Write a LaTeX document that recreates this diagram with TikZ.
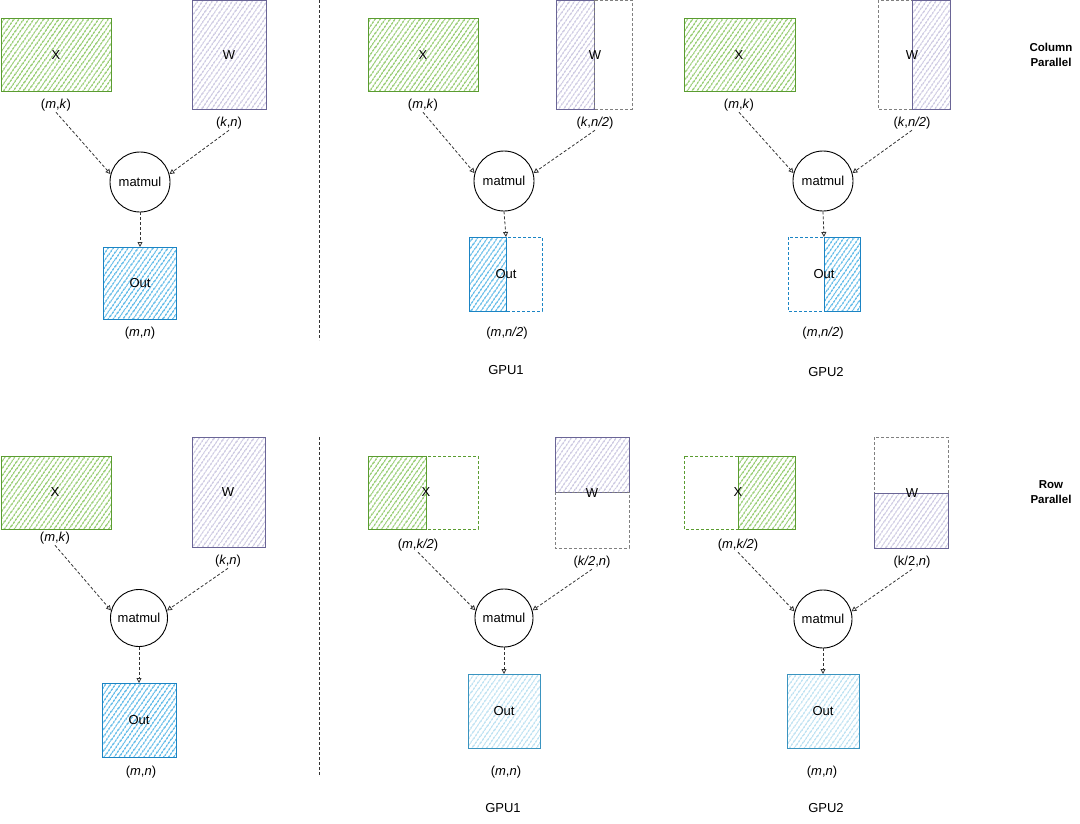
\documentclass[tikz,border=0pt]{standalone}
\usepackage{fontspec}
\setmainfont{Liberation Sans}
\usetikzlibrary{arrows.meta,patterns.meta}
\definecolor{xline}{HTML}{5A9C30}
\definecolor{xhatch}{HTML}{6DB83A}
\definecolor{wline}{HTML}{6A6596}
\definecolor{whatch}{HTML}{B8B3D6}
\definecolor{oline}{HTML}{1B84C4}
\definecolor{ohatch}{HTML}{1E9EDE}
\definecolor{lline}{HTML}{3A94C0}
\definecolor{lhatch}{HTML}{A2D5EC}
\tikzset{
	hatch/.style={pattern={Lines[angle=55,distance=4pt,line width=1.3pt]},pattern color=#1},
	xmat/.style={draw=xline,line width=0.9pt,hatch=xhatch},
	wmat/.style={draw=wline,line width=0.9pt,hatch=whatch},
	omat/.style={draw=oline,line width=0.9pt,hatch=ohatch},
	lmat/.style={draw=lline,line width=0.9pt,hatch=lhatch},
	halfbox/.style={draw=#1,line width=0.8pt,dash pattern=on 3pt off 2pt},
	mm/.style={circle,draw,line width=0.9pt,minimum size=60pt,inner sep=0pt},
	dim/.style={inner sep=1pt},
	flow/.style={dash pattern=on 3pt off 2pt,line width=0.8pt,draw=black!80,-{Triangle[open,length=5pt,width=5pt]}},
	sep/.style={dash pattern=on 3pt off 2pt,line width=0.8pt,black!80}
}
\begin{document}
\begin{tikzpicture}[x=1pt,y=-1pt,font=\fontsize{13}{15}\selectfont]
	\useasboundingbox (0,0) rectangle (1080,823);
	% separators
	\draw[sep] (319,0)--(319,340) (319,437)--(319,775);
	\node[align=center,font=\fontsize{11.5}{15}\selectfont\bfseries] (colpar) at (1051,55) {Column\\Parallel};
	\node[align=center,font=\fontsize{11.5}{15}\selectfont\bfseries] (rowpar) at (1051,492) {Row\\Parallel};
	%% column parallel, single device
	\draw[xmat] (1,18) rectangle (111,91);
	\draw[wmat] (192,0) rectangle (266,109);
	\draw[omat] (103,247) rectangle (176,319);
	\node (x1) at (56,55) {X};
	\node (w1) at (229,55) {W};
	\node (o1) at (140,283) {Out};
	\node[dim] (lx1) at (56,105) {(\textit{m},\textit{k})};
	\node[dim] (lw1) at (229,123) {(\textit{k},\textit{n})};
	\node[dim] (lo1) at (140,333) {(\textit{m},\textit{n})};
	\node[mm] (mm1) at (140,182) {matmul};
	\draw[flow] (lx1.south)--(mm1.165);
	\draw[flow] (lw1.south)--(mm1.15);
	\draw[flow] (mm1.south)--(o1.north |- 0,247);
	%% column parallel, GPU1
	\draw[xmat] (368,18) rectangle (478,91);
	\draw[wmat] (556,0) rectangle (594,109);
	\draw[halfbox=gray] (594,0) rectangle (632,109);
	\draw[omat] (469,237) rectangle (506,311);
	\draw[halfbox=oline] (506,237) rectangle (542,311);
	\node (x2) at (423,55) {X};
	\node (w2) at (595,55) {W};
	\node (o2) at (506,274) {Out};
	\node[dim] (lx2) at (423,105) {(\textit{m},\textit{k})};
	\node[dim] (lw2) at (595,123) {(\textit{k},\textit{n/2})};
	\node[dim] (lo2) at (507,333) {(\textit{m},\textit{n/2})};
	\node[mm] (mm2) at (504,181) {matmul};
	\node (gpu1a) at (506,370) {GPU1};
	\draw[flow] (lx2.south)--(mm2.165);
	\draw[flow] (lw2.south)--(mm2.15);
	\draw[flow] (mm2.south)--(506,237);
	%% column parallel, GPU2
	\draw[xmat] (684,18) rectangle (795,91);
	\draw[halfbox=gray] (878,0) rectangle (912,109);
	\draw[wmat] (912,0) rectangle (950,109);
	\draw[halfbox=oline] (788,237) rectangle (824,311);
	\draw[omat] (824,237) rectangle (860,311);
	\node (x3) at (739,55) {X};
	\node (w3) at (912,55) {W};
	\node (o3) at (824,274) {Out};
	\node[dim] (lx3) at (739,105) {(\textit{m},\textit{k})};
	\node[dim] (lw3) at (912,123) {(\textit{k},\textit{n/2})};
	\node[dim] (lo3) at (823,333) {(\textit{m},\textit{n/2})};
	\node[mm] (mm3) at (823,181) {matmul};
	\node (gpu2a) at (826,372) {GPU2};
	\draw[flow] (lx3.south)--(mm3.165);
	\draw[flow] (lw3.south)--(mm3.15);
	\draw[flow] (mm3.south)--(824,237);
	%% row parallel, single device
	\draw[xmat] (1,456) rectangle (111,529);
	\draw[wmat] (192,437) rectangle (265,547);
	\draw[omat] (102,683) rectangle (176,757);
	\node (x4) at (55,492) {X};
	\node (w4) at (228,492) {W};
	\node (o4) at (139,720) {Out};
	\node[dim] (lx4) at (55,538) {(\textit{m},\textit{k})};
	\node[dim] (lw4) at (228,561) {(\textit{k},\textit{n})};
	\node[dim] (lo4) at (141,772) {(\textit{m},\textit{n})};
	\node[mm,minimum size=57pt] (mm4) at (139,618) {matmul};
	\draw[flow] (lx4.south)--(mm4.165);
	\draw[flow] (lw4.south)--(mm4.15);
	\draw[flow] (mm4.south)--(139,683);
	%% row parallel, GPU1
	\draw[xmat] (368,456) rectangle (426,529);
	\draw[halfbox=xline] (426,456) rectangle (478,529);
	\draw[wmat] (555,437) rectangle (629,492);
	\draw[halfbox=gray] (555,492) rectangle (629,548);
	\draw[lmat] (468,674) rectangle (540,748);
	\node (x5) at (426,492) {X};
	\node (w5) at (592,493) {W};
	\node (o5) at (504,711) {Out};
	\node[dim] (lx5) at (418,545) {(\textit{m},\textit{k/2})};
	\node[dim] (lw5) at (592,562) {(\textit{k/2},\textit{n})};
	\node[dim] (lo5) at (506,772) {(\textit{m},\textit{n})};
	\node[mm,minimum size=58pt] (mm5) at (504,618) {matmul};
	\node (gpu1b) at (503,808) {GPU1};
	\draw[flow] (lx5.south)--(mm5.165);
	\draw[flow] (lw5.south)--(mm5.15);
	\draw[flow] (mm5.south)--(504,674);
	%% row parallel, GPU2
	\draw[halfbox=xline] (684,456) rectangle (738,529);
	\draw[xmat] (738,456) rectangle (795,529);
	\draw[halfbox=gray] (874,437) rectangle (948,493);
	\draw[wmat] (874,493) rectangle (948,548);
	\draw[lmat] (787,674) rectangle (859,748);
	\node (x6) at (738,492) {X};
	\node (w6) at (912,493) {W};
	\node (o6) at (823,711) {Out};
	\node[dim] (lx6) at (738,545) {(\textit{m},\textit{k/2})};
	\node[dim] (lw6) at (912,562) {(k/2,\textit{n})};
	\node[dim] (lo6) at (822,772) {(\textit{m},\textit{n})};
	\node[mm,minimum size=58pt] (mm6) at (823,619) {matmul};
	\node (gpu2b) at (826,808) {GPU2};
	\draw[flow] (lx6.south)--(mm6.165);
	\draw[flow] (lw6.south)--(mm6.15);
	\draw[flow] (mm6.south)--(823,674);
\end{tikzpicture}
\end{document}
